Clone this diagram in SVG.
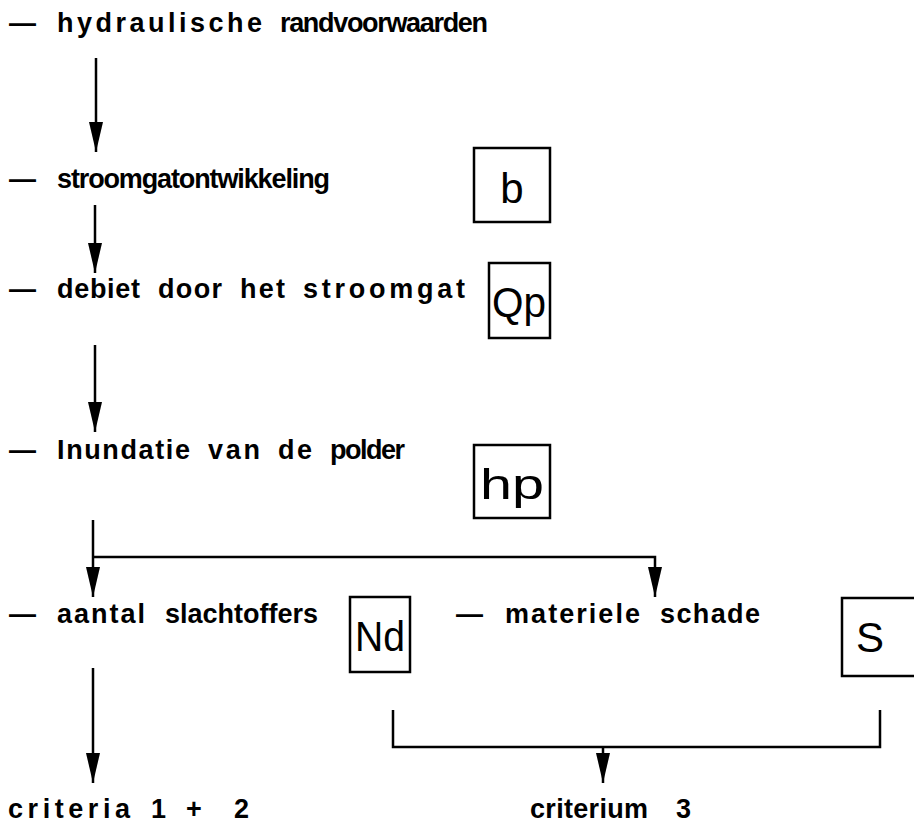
<svg xmlns="http://www.w3.org/2000/svg" width="914" height="830" viewBox="0 0 914 830">
<defs>
<style>
.t{font-family:"Liberation Sans",Arial,sans-serif;font-weight:bold;font-size:27px;fill:#000}
.b{font-family:"Liberation Sans",Arial,sans-serif;font-size:42px;fill:#000;text-anchor:middle}
.box{fill:none;stroke:#000;stroke-width:2.5}
.c{fill:none;stroke:#000;stroke-width:2.5}
</style>
<marker id="ah" viewBox="0 -7 30 14" refX="30" refY="0" markerWidth="30" markerHeight="14" markerUnits="userSpaceOnUse" orient="auto">
<path d="M0,-7 L30,0 L0,7 Z" fill="#000"/>
</marker>
</defs>
<rect width="914" height="830" fill="#fff"/>
<g id="n1"><text class="t" y="32"><tspan x="9" textLength="27" lengthAdjust="spacingAndGlyphs">—</tspan> <tspan x="57" textLength="205" lengthAdjust="spacing">hydraulische</tspan> <tspan x="280" textLength="208" lengthAdjust="spacing">randvoorwaarden</tspan></text></g>
<g id="n2"><text class="t" y="188"><tspan x="9" textLength="27" lengthAdjust="spacingAndGlyphs">—</tspan> <tspan x="57" textLength="273" lengthAdjust="spacing">stroomgatontwikkeling</tspan></text>
<rect class="box" x="474" y="148" width="76" height="74"/><text class="b" x="512" y="203">b</text></g>
<g id="n3"><text class="t" y="298"><tspan x="9" textLength="27" lengthAdjust="spacingAndGlyphs">—</tspan> <tspan x="57" textLength="83" lengthAdjust="spacing">debiet</tspan> <tspan x="158" textLength="64" lengthAdjust="spacing">door</tspan> <tspan x="240" textLength="45" lengthAdjust="spacing">het</tspan> <tspan x="303" textLength="162" lengthAdjust="spacing">stroomgat</tspan></text>
<rect class="box" x="489" y="263" width="61" height="75"/><text class="b" x="519" y="317" textLength="54" lengthAdjust="spacingAndGlyphs">Qp</text></g>
<g id="n4"><text class="t" y="459"><tspan x="9" textLength="27" lengthAdjust="spacingAndGlyphs">—</tspan> <tspan x="57" textLength="133" lengthAdjust="spacing">Inundatie</tspan> <tspan x="208" textLength="52" lengthAdjust="spacing">van</tspan> <tspan x="278" textLength="34" lengthAdjust="spacing">de</tspan> <tspan x="330" textLength="75" lengthAdjust="spacing">polder</tspan></text>
<rect class="box" x="474" y="445" width="76" height="73"/><text class="b" x="512" y="499" textLength="64" lengthAdjust="spacingAndGlyphs">hp</text></g>
<g id="n5"><text class="t" y="623"><tspan x="9" textLength="27" lengthAdjust="spacingAndGlyphs">—</tspan> <tspan x="57" textLength="88" lengthAdjust="spacing">aantal</tspan> <tspan x="165" textLength="153" lengthAdjust="spacing">slachtoffers</tspan></text>
<rect class="box" x="350" y="597" width="60" height="75"/><text class="b" x="380" y="651" textLength="50" lengthAdjust="spacingAndGlyphs">Nd</text></g>
<g id="n6"><text class="t" y="623"><tspan x="456" textLength="27" lengthAdjust="spacingAndGlyphs">—</tspan> <tspan x="505" textLength="135" lengthAdjust="spacing">materiele</tspan> <tspan x="660" textLength="100" lengthAdjust="spacing">schade</tspan></text>
<path class="box" d="M916,598 H842 V676 H916"/><text class="b" x="870" y="652">S</text></g>
<g id="n7"><text class="t" y="818"><tspan x="8" textLength="122" lengthAdjust="spacing">criteria</tspan> <tspan x="151">1</tspan> <tspan x="186">+</tspan> <tspan x="234">2</tspan></text></g>
<g id="n8"><text class="t" y="818"><tspan x="530" textLength="118" lengthAdjust="spacing">criterium</tspan> <tspan x="676">3</tspan></text></g>
<g id="connectors">
<path class="c" d="M96,58 V152" marker-end="url(#ah)"/>
<path class="c" d="M95,205 V273" marker-end="url(#ah)"/>
<path class="c" d="M95,345 V432" marker-end="url(#ah)"/>
<path class="c" d="M93,520 V597" marker-end="url(#ah)"/>
<path class="c" d="M93,557 H655 V597" marker-end="url(#ah)"/>
<path class="c" d="M93,668 V783" marker-end="url(#ah)"/>
<path class="c" d="M393,710 V747 H880 V710"/>
<path class="c" d="M603,747 V783" marker-end="url(#ah)"/>
</g>
</svg>
